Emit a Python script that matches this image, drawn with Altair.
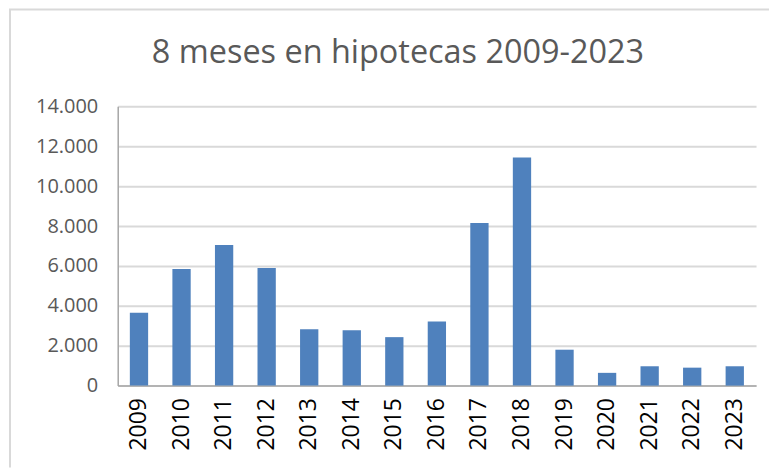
import altair as alt
import pandas as pd

years = ["2009", "2010", "2011", "2012", "2013", "2014", "2015", "2016",
         "2017", "2018", "2019", "2020", "2021", "2022", "2023"]
values = [3650, 5850, 7050, 5900, 2830, 2770, 2430, 3220,
          8150, 11430, 1800, 640, 970, 900, 970]
y_ticks = [0, 2000, 4000, 6000, 8000, 10000, 12000, 14000]
title_text = "8 meses en hipotecas 2009-2023"

df = pd.DataFrame({"year": years, "value": values})

FONT = "Open Sans"
one = pd.DataFrame({"a": [0]})

top_line = alt.Chart(one).mark_rule(color="#d9d9d9", strokeWidth=2).encode(
    x=alt.value(-109), x2=alt.value(653), y=alt.value(-97)
)
left_line = alt.Chart(one).mark_rule(color="#d9d9d9", strokeWidth=2).encode(
    x=alt.value(-108), y=alt.value(-97), y2=alt.value(362)
)

bars = alt.Chart(df).mark_bar(color="#4F81BD").encode(
    x=alt.X("year:N", sort=years, title=None,
            scale=alt.Scale(paddingInner=0.57, paddingOuter=0.285),
            axis=alt.Axis(labelAngle=-90, labelFont=FONT, labelFontSize=23,
                          labelColor="#000000", labelPadding=12, ticks=False,
                          domainColor="#a6a6a6", domainWidth=1.5, grid=False)),
    y=alt.Y("value:Q", title=None,
            scale=alt.Scale(domain=[0, 14000], nice=False),
            axis=alt.Axis(values=y_ticks, labelFont=FONT, labelFontSize=20,
                          labelColor="#595959", labelPadding=20, ticks=False,
                          domainColor="#a6a6a6", domainWidth=1.5,
                          gridColor="#d9d9d9", gridWidth=2,
                          labelExpr="replace(format(datum.value, ','), ',', '.')"))
)

title = alt.Chart(pd.DataFrame({"t": [title_text]})).mark_text(
    font=FONT, fontSize=32.5, color="#595959", align="center", baseline="alphabetic"
).encode(
    text="t:N", x=alt.value(281), y=alt.value(-43)
)

chart = alt.layer(bars, top_line, left_line, title).properties(
    width=640, height=280, padding=0
).configure_view(stroke=None)

chart.save("out.html", embed_options={"renderer": "svg", "actions": False})
